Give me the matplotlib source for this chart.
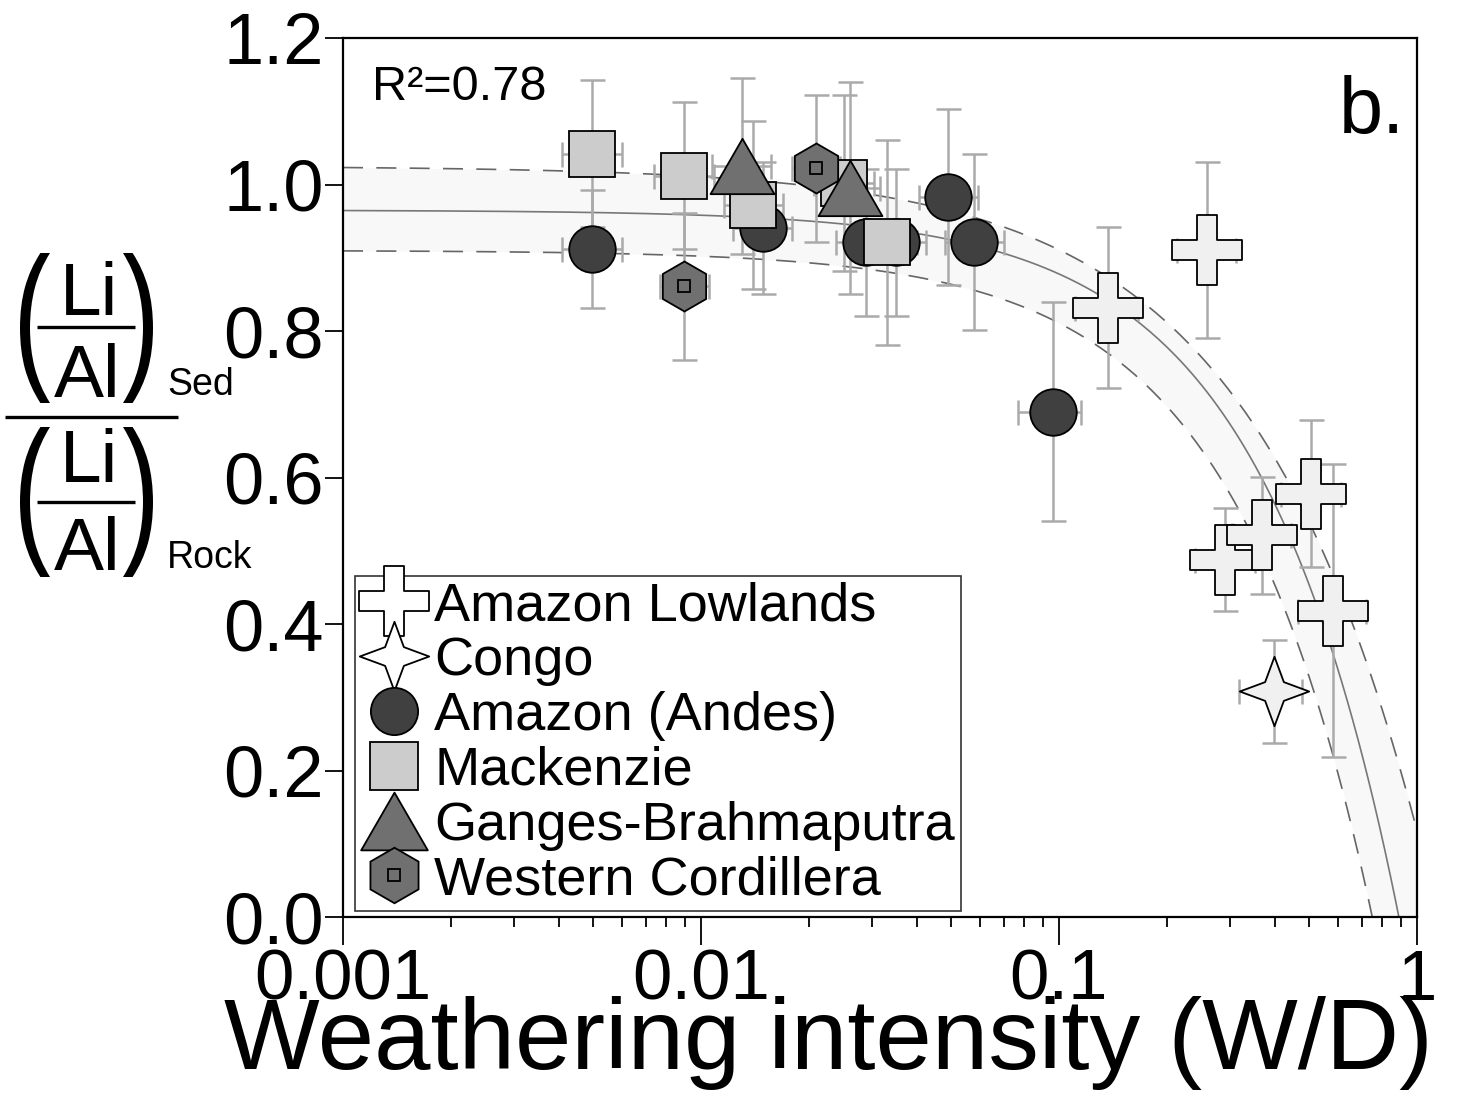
import numpy as np
import matplotlib
matplotlib.use("Agg")
import matplotlib.pyplot as plt
import matplotlib.ticker as mticker
from matplotlib.path import Path
from matplotlib.patches import PathPatch
from matplotlib.textpath import TextPath
from matplotlib.font_manager import FontProperties
from matplotlib.transforms import Affine2D
from matplotlib.lines import Line2D
from matplotlib.legend_handler import HandlerTuple

W, H = 1478, 1113
FONT = "Liberation Sans"
plt.rcParams.update({"font.family": FONT})

# ── Data ──────────────────────────────────────────────────────────────────────
low_x  = np.array([0.137, 0.259, 0.291, 0.369, 0.506, 0.582])
low_y  = np.array([0.832, 0.911, 0.488, 0.521, 0.578, 0.418])
low_ye = np.array([0.11, 0.12, 0.07, 0.08, 0.10, 0.20])
low_xlo = np.array([0.111, 0.214, 0.240, 0.305, 0.418, 0.466])
low_xhi = np.array([0.166, 0.313, 0.352, 0.446, 0.612, 0.720])

congo_x  = np.array([0.399])
congo_y  = np.array([0.308])
congo_ye = np.array([0.07])
congo_xlo = np.array([0.319])
congo_xhi = np.array([0.477])

andes_x  = np.array([0.00497, 0.0149, 0.0289, 0.0351, 0.0491, 0.0579, 0.096])
andes_y  = np.array([0.912, 0.941, 0.921, 0.921, 0.983, 0.921, 0.690])
andes_ye = np.array([0.08, 0.09, 0.10, 0.10, 0.12, 0.12, 0.15])
andes_xlo = np.array([0.0041, 0.0123, 0.0239, 0.0290, 0.0406, 0.0479, 0.0768])
andes_xhi = np.array([0.0060, 0.0180, 0.0350, 0.0425, 0.0594, 0.0700, 0.115])

mack_x  = np.array([0.00497, 0.00897, 0.0140, 0.0251, 0.0331])
mack_y  = np.array([1.042, 1.012, 0.972, 1.002, 0.921])
mack_ye = np.array([0.10, 0.10, 0.115, 0.12, 0.14])
mack_xlo = np.array([0.0041, 0.0074, 0.0116, 0.0207, 0.0274])
mack_xhi = np.array([0.0060, 0.0109, 0.0169, 0.0304, 0.0400])

gb_x  = np.array([0.0130, 0.0261])
gb_y  = np.array([1.025, 0.995])
gb_ye = np.array([0.12, 0.145])
gb_xlo = np.array([0.0107, 0.0216])
gb_xhi = np.array([0.0157, 0.0316])

wc_x  = np.array([0.00897, 0.0210])
wc_y  = np.array([0.861, 1.022])
wc_ye = np.array([0.10, 0.10])
wc_xlo = np.array([0.0077, 0.0180])
wc_xhi = np.array([0.0105, 0.0245])

# fit y = A * (1 - (x / x0)^n) : best fit and the two envelope curves
fit_mid = (0.965, 0.89, 1.1)
fit_hi  = (1.025, 1.145, 0.9)
fit_lo  = (0.91, 0.75, 1.1)

labels = ["Amazon Lowlands", "Congo", "Amazon (Andes)", "Mackenzie",
          "Ganges-Brahmaputra", "Western Cordillera"]

# ── Marker shapes ─────────────────────────────────────────────────────────────
a = 0.138
CROSS = Path([(-a, .5), (a, .5), (a, a), (.5, a), (.5, -a), (a, -a), (a, -.5),
              (-a, -.5), (-a, -a), (-.5, -a), (-.5, a), (-a, a), (-a, .5)], closed=True)
r = 0.135
STAR = Path([(0, .5), (r, r), (.5, 0), (r, -r), (0, -.5), (-r, -r), (-.5, 0),
             (-r, r), (0, .5)], closed=True)
TRI = Path([(0, .433), (-.5, -.433), (.5, -.433), (0, .433)], closed=True)

C_LIGHT, C_DARK, C_SQ, C_MID = "#f0f0f0", "#404040", "#cccccc", "#707070"


def fit_curve(xs, p):
    A, x0, n = p
    return A * (1 - (xs / x0) ** n)


fig = plt.figure(figsize=(W / 100, H / 100), dpi=100)
ax = fig.add_axes([343 / W, 1 - 917 / H, (1417 - 343) / W, (917 - 38) / H])
ax.set_xscale("log")

xs = np.logspace(-3, 0, 400)
ax.fill_between(xs, fit_curve(xs, fit_lo), fit_curve(xs, fit_hi), color="#f8f8f8", lw=0, zorder=0.5)
ax.plot(xs, fit_curve(xs, fit_mid), color="#777777", lw=1.2, zorder=1)
for p in (fit_hi, fit_lo):
    ax.plot(xs, fit_curve(xs, p), color="#666666", lw=1.2, ls=(0, (12, 8)), zorder=1)

series = [
    (low_x, low_y, low_ye, low_xlo, low_xhi, CROSS, 50, C_LIGHT, 7),
    (congo_x, congo_y, congo_ye, congo_xlo, congo_xhi, STAR, 50, C_LIGHT, 8),
    (andes_x, andes_y, andes_ye, andes_xlo, andes_xhi, "o", 33.5, C_DARK, 3),
    (mack_x, mack_y, mack_ye, mack_xlo, mack_xhi, "s", 33.5, C_SQ, 4),
    (gb_x, gb_y, gb_ye, gb_xlo, gb_xhi, TRI, 46, C_MID, 6),
    (wc_x, wc_y, wc_ye, wc_xlo, wc_xhi, "h", 36, C_MID, 5),
]
for x, y, ye, xlo, xhi, m, ms, fc, z in series:
    ax.errorbar(x, y, yerr=ye, xerr=[x - xlo, xhi - x], fmt="none", ecolor="#aaaaaa",
                elinewidth=1.8, capsize=9, capthick=1.8, zorder=2)
    ax.plot(x, y, ls="none", marker=m, ms=ms, mfc=fc, mec="black", mew=1.3, zorder=z)
# small square inside the hexagons
ax.plot(wc_x, wc_y, ls="none", marker="s", ms=9, mfc=C_MID, mec="black", mew=1.3, zorder=5.1)

ax.set_xlim(0.001, 1)
ax.set_ylim(0, 1.2)
ax.set_xticks([0.001, 0.01, 0.1, 1], ["0.001", "0.01", "0.1", "1"])
ax.xaxis.set_minor_locator(mticker.LogLocator(base=10, subs=np.arange(2, 10)))
ax.xaxis.set_minor_formatter(mticker.NullFormatter())
ax.set_yticks(np.arange(0, 1.21, 0.2), ["0.0", "0.2", "0.4", "0.6", "0.8", "1.0", "1.2"])
ax.tick_params(axis="x", which="major", direction="out", length=20, width=1.3, labelsize=51, pad=3)
ax.tick_params(axis="x", which="minor", direction="out", length=7, width=1.3)
ax.tick_params(axis="y", direction="out", length=13, width=1.3, labelsize=52, pad=1)
for s in ax.spines.values():
    s.set_linewidth(1.6)

# legend
mk = dict(ls="none", mec="black", mew=1.3)
h_cross = Line2D([], [], marker=CROSS, ms=50, mfc="white", **mk)
h_star = Line2D([], [], marker=STAR, ms=50, mfc="white", **mk)
h_circ = Line2D([], [], marker="o", ms=34, mfc=C_DARK, **mk)
h_sq = Line2D([], [], marker="s", ms=34, mfc=C_SQ, **mk)
h_tri = Line2D([], [], marker=TRI, ms=48, mfc=C_MID, **mk)
h_hex = (Line2D([], [], marker="h", ms=40, mfc=C_MID, **mk),
         Line2D([], [], marker="s", ms=9, mfc=C_MID, **mk))
leg = ax.legend([h_cross, h_star, h_circ, h_sq, h_tri, h_hex], labels,
                loc="lower left", bbox_to_anchor=(0.011, 0.007), borderaxespad=0,
                fontsize=39, fancybox=False, edgecolor="#333333", framealpha=1,
                borderpad=0.1, labelspacing=0.09, handlelength=1.25, handletextpad=0.12,
                handler_map={tuple: HandlerTuple(ndivide=1)})
leg.get_frame().set_linewidth(1.2)
leg.set_zorder(10)

ax.text(0.027, (917 - 100) / 879, "R²=0.78", fontsize=35, va="baseline", transform=ax.transAxes)
ax.text(0.989, (917 - 133) / 879, "b.", fontsize=57, ha="right", va="baseline", transform=ax.transAxes)

fig.text(828 / W, 1 - 1069 / H, "Weathering intensity (W/D)", fontsize=73, ha="center", va="baseline")


# ── composite y label: (Li/Al)_Sed / (Li/Al)_Rock ─────────────────────────────
def paren(ch, x0, x1, ytop, ybot):
    tp = TextPath((0, 0), ch, size=100, prop=FontProperties(family=FONT))
    ext = tp.get_extents()
    tr = (Affine2D().translate(-ext.x0, -ext.y0)
          .scale((x1 - x0) / ext.width, (ybot - ytop) / ext.height)
          .translate(x0, H - ybot))
    fig.add_artist(PathPatch(tp, transform=tr, facecolor="black", lw=0))


def hbar(x0, x1, y, lw):
    fig.add_artist(Line2D([x0 / W, x1 / W], [1 - y / H] * 2, transform=fig.transFigure,
                          color="black", lw=lw, solid_capstyle="butt"))


for top, li_base, bar_y, al_base, sub, sub_base in [(253, 315, 327, 397, "Sed", 395),
                                                    (427, 482, 502, 570, "Rock", 568)]:
    paren("(", 20, 50, top, top + 150)
    paren(")", 123, 153, top, top + 150)
    fig.text(89 / W, 1 - li_base / H, "Li", fontsize=54, ha="center", va="baseline")
    fig.text(87 / W, 1 - al_base / H, "Al", fontsize=54, ha="center", va="baseline")
    hbar(37, 135, bar_y, 2.4)
    fig.text(167 / W, 1 - sub_base / H, sub, fontsize=27, ha="left", va="baseline")
hbar(5, 178, 417, 2.4)

fig.savefig("out.png", dpi=100)
